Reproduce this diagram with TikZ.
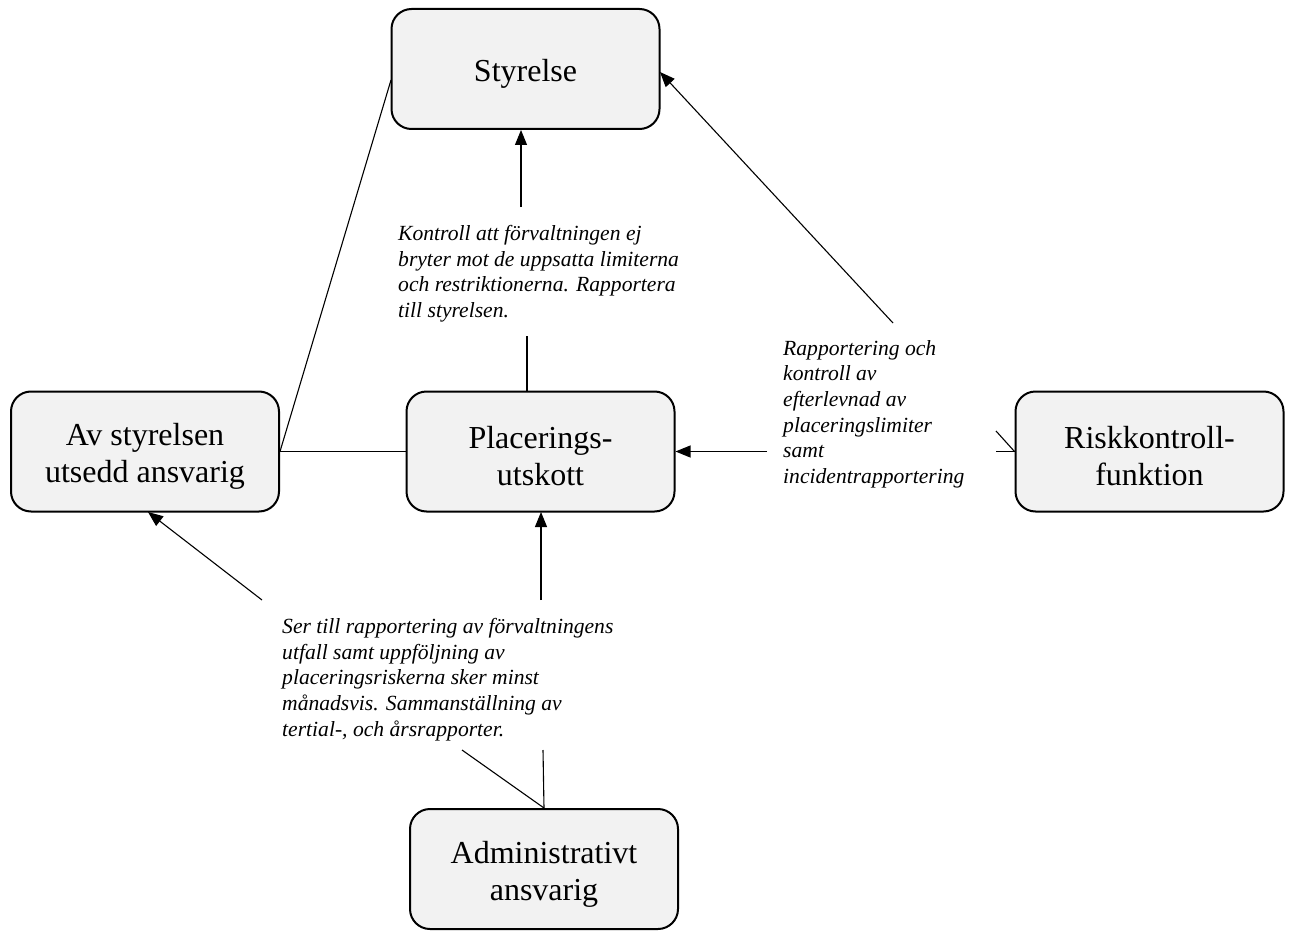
\documentclass[tikz,border=0pt]{standalone}
\usepackage{fontspec}
\setmainfont{Liberation Serif}
\usetikzlibrary{arrows.meta}
\definecolor{boxfill}{HTML}{F2F2F2}
\tikzset{
  box/.style={draw=black, line width=2pt, fill=boxfill, rounded corners=20pt,
    minimum width=268pt, minimum height=120pt, inner sep=0pt},
  boxtext/.style={align=center, inner sep=0pt, font=\fontsize{32}{37}\selectfont},
  note/.style={anchor=north west, align=left, inner sep=0pt,
    font=\fontsize{21.6}{25.7}\selectfont\itshape},
  conn/.style={line width=1.1pt},
  arr/.style={conn, -{Triangle[length=15pt,width=12pt]}}
}
\begin{document}
\begin{tikzpicture}[x=1pt,y=-1pt]
\useasboundingbox (0,0) rectangle (1293,931);
% boxes
\node[box] (styr)  at (525.5,69)    {};
\node[box] (av)    at (145,451.5)   {};
\node[box] (plac)  at (540.5,451.5) {};
\node[box] (risk)  at (1149.5,451.5){};
\node[box] (admin) at (544,869)     {};
\node[boxtext] (styrT)  at ([yshift=-5pt]styr.center)  {Styrelse};
\node[boxtext] (avT)    at ([yshift=-5pt]av.center)    {Av styrelsen\\utsedd ansvarig};
\node[boxtext] (placT)  at ([yshift=-5pt]plac.center)  {Placerings-\\utskott};
\node[boxtext] (riskT)  at ([yshift=-5pt]risk.center)  {Riskkontroll-\\funktion};
\node[boxtext] (adminT) at ([yshift=-5pt]admin.center) {Administrativt\\ansvarig};
% notes
\node[note] (t1) at (398,225) {Kontroll att förvaltningen ej\\bryter mot de uppsatta limiterna\\och restriktionerna. Rapportera\\till styrelsen.};
\node[note] (t2) at (783,340) {Rapportering och\\kontroll av\\efterlevnad av\\placeringslimiter\\samt\\incidentrapportering};
\node[note] (t3) at (282,618) {Ser till rapportering av förvaltningens\\utfall samt uppföljning av\\placeringsriskerna sker minst\\månadsvis. Sammanställning av\\tertial-, och årsrapporter.};
% free ends
\coordinate (sl) at (391,80);
\coordinate (p1) at (527,336);
\coordinate (p2) at (521,207);
\coordinate (s1) at (521,130);
\coordinate (r1) at (996,451.5);
\coordinate (r2) at (996,431);
\coordinate (r3) at (767,451.5);
\coordinate (r4) at (893,323);
\coordinate (s2) at (660,72);
\coordinate (a1) at (543,750);
\coordinate (a2) at (462,750);
\coordinate (a3) at (541,600);
\coordinate (pb) at (541,512);
\coordinate (a4) at (262,600);
\coordinate (avb) at (148,512);
% connectors
\draw[conn] (av.east) -- (sl);
\draw[conn] (av.east) -- (plac.west);
\draw[conn] (plac.north -| p1) -- (p1);
\draw[arr] (p2) -- (s1);
\draw[conn] (risk.west) -- (r1);
\draw[conn] (risk.west) -- (r2);
\draw[arr] (r3) -- (plac.east);
\draw[arr] (r4) -- (s2);
\draw[conn] (admin.north) -- (a1);
\draw[conn] (admin.north) -- (a2);
\draw[arr] (a3) -- (pb);
\draw[arr] (a4) -- (avb);
\end{tikzpicture}
\end{document}
